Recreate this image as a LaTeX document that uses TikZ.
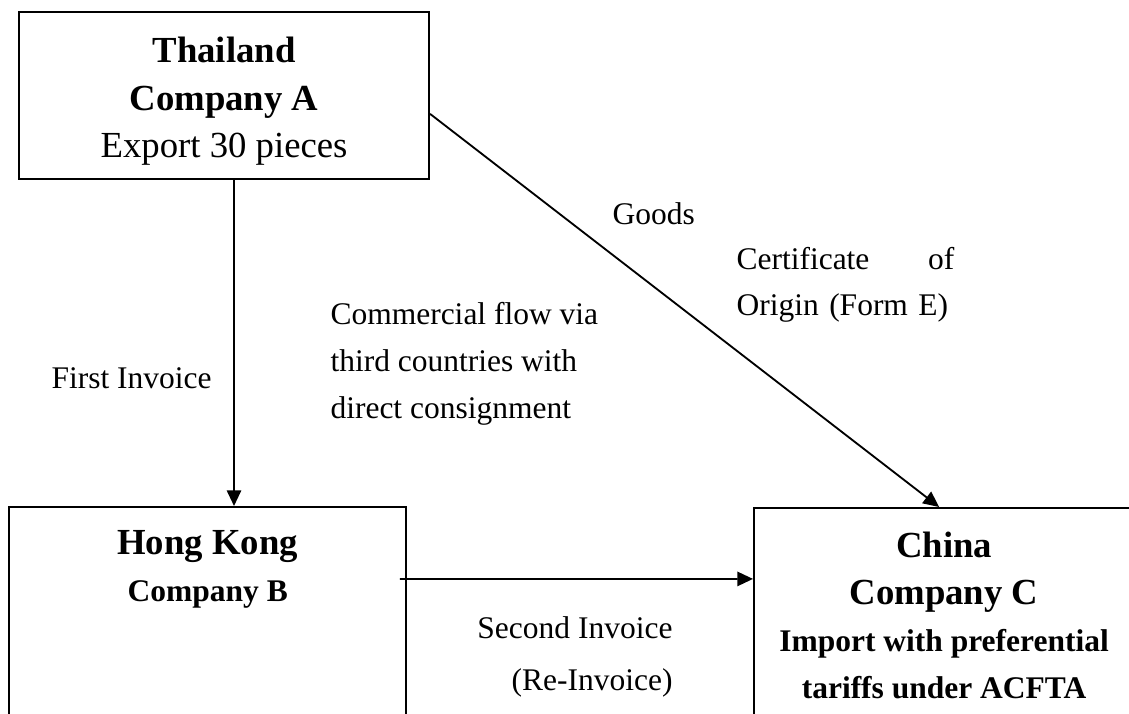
\documentclass[tikz,border=0pt]{standalone}
\usepackage{fontspec}
\setmainfont{Liberation Serif}
\usetikzlibrary{arrows.meta,positioning}

\begin{document}
\begin{tikzpicture}[x=0.381pt,y=0.381pt,
        box/.style={draw,line width=0.8pt,rectangle,inner sep=0pt,anchor=north west},
        flow/.style={line width=0.7pt,-{Triangle[length=6pt,width=5.5pt]}},
        lbl/.style={inner sep=0pt,align=left,font=\fontsize{12}{17.8}\selectfont}]
        \useasboundingbox (0,0) rectangle (1129,713);
        \clip (0,0) rectangle (1129,713);

        % the three companies
        \node[box,minimum width=156.2pt,minimum height=63.6pt] (thai) at (18,702) {};
        \node[box,minimum width=151.4pt,minimum height=114pt] (hk) at (8,207) {};
        \node[box,minimum width=144.8pt,minimum height=114pt] (cn) at (753,206) {};

        \node[inner sep=0pt,align=center,font=\fontsize{14}{18}\selectfont] (thaitext)
              at ([yshift=-2.2pt]thai.center)
              {\textbf{Thailand}\\\textbf{Company A}\\Export 30 pieces};
        \node[inner sep=0pt,below=24 of hk.north,align=center,
              font=\bfseries\fontsize{14}{18}\selectfont] (hktext)
              {Hong Kong\\{\fontsize{12}{18}\selectfont Company B}};
        \node[inner sep=0pt,below=24 of cn.north,align=center,
              font=\bfseries\fontsize{14}{18}\selectfont] (cntext)
              {China\\Company C\\{\fontsize{12}{18}\selectfont Import with preferential}\\
               {\fontsize{12}{18}\selectfont tariffs under ACFTA}};

        % flows
        \draw[flow] ([xshift=3.8pt]thai.south) -- ([xshift=3.8pt]thai.south |- hk.north);
        \draw[flow] ([yshift=-7pt]thai.east) -- ([xshift=70.9pt]cn.north west);
        \draw[flow] ([xshift=-2.9pt,yshift=-27.8pt]hk.north east) -- ([yshift=-27.4pt]cn.north west);

        % labels
        \node[lbl,anchor=base west] (inv1) at (51,325) {First Invoice};
        \node[lbl,anchor=base west] (via) at (330,295)
              {Commercial flow via\\third countries with\\direct consignment};
        \node[lbl,anchor=base west] (goods) at (612,489) {Goods};
        \node[lbl,anchor=base west,text width=83pt] (origin) at (736,444)
              {Certificate\hfill of\\Origin (Form E)};
        \node[lbl,anchor=base east,align=right,font=\fontsize{12}{19.5}\selectfont] (inv2)
              at (673,23) {Second Invoice\\(Re-Invoice)};
\end{tikzpicture}
\end{document}
